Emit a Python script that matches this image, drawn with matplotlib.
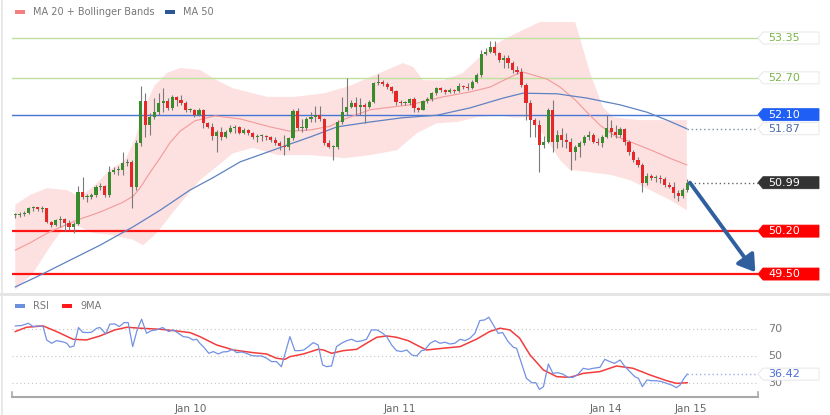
import matplotlib.pyplot as plt
import numpy as np
from matplotlib.patches import Polygon, Rectangle
from matplotlib.lines import Line2D

# ---------------- data (30 min candles) ----------------
date_labels = ["Jan 10", "Jan 11", "Jan 14", "Jan 15"]
date_pos = [39.2, 85.9, 131.8, 150.8]

first_open = 50.46
closes = [50.46, 50.48, 50.50, 50.58, 50.59, 50.56, 50.58, 50.35, 50.30, 50.38,
          50.40, 50.33, 50.27, 50.32, 50.84, 50.76, 50.76, 50.79, 50.92, 50.94,
          50.79, 51.16, 51.20, 51.20, 51.31, 51.33, 50.92, 51.64, 52.32, 51.93,
          52.06, 52.14, 52.29, 52.32, 52.21, 52.39, 52.34, 52.29, 52.18, 52.18,
          52.09, 52.18, 51.96, 51.90, 51.75, 51.82, 51.74, 51.82, 51.88, 51.90,
          51.80, 51.85, 51.80, 51.74, 51.75, 51.75, 51.74, 51.69, 51.64, 51.59,
          51.57, 51.72, 52.16, 51.88, 51.88, 52.03, 52.06, 52.09, 52.03, 51.64,
          51.57, 51.57, 51.98, 52.14, 52.22, 52.29, 52.22, 52.26, 52.22, 52.31,
          52.62, 52.63, 52.60, 52.55, 52.49, 52.31, 52.29, 52.29, 52.35, 52.21,
          52.18, 52.32, 52.35, 52.45, 52.53, 52.50, 52.47, 52.50, 52.49, 52.57,
          52.55, 52.53, 52.63, 52.75, 53.09, 53.12, 53.20, 53.11, 52.99, 53.02,
          52.94, 52.83, 52.80, 52.58, 52.29, 52.01, 51.93, 51.60, 51.65, 52.18,
          51.65, 51.77, 51.69, 51.65, 51.49, 51.57, 51.64, 51.74, 51.77, 51.65,
          51.64, 51.74, 51.88, 51.82, 51.77, 51.87, 51.65, 51.49, 51.36, 51.28,
          50.99, 51.10, 51.07, 51.07, 51.05, 50.95, 50.92, 50.82, 50.77, 50.87, 50.99]
highs = [50.50, 50.51, 50.53, 50.59, 50.61, 50.59, 50.61, 50.56, 50.36, 50.40,
         50.45, 50.41, 50.38, 50.35, 50.94, 51.08, 50.81, 50.82, 50.95, 50.99,
         50.95, 51.26, 51.25, 51.26, 51.49, 51.38, 51.36, 51.69, 52.57, 52.45,
         52.13, 52.37, 52.45, 52.53, 52.37, 52.42, 52.40, 52.42, 52.32, 52.21,
         52.19, 52.21, 52.19, 51.98, 51.96, 51.85, 51.90, 51.85, 51.93, 51.93,
         51.91, 51.88, 51.87, 51.82, 51.78, 51.78, 51.77, 51.75, 51.74, 51.67,
         51.77, 51.74, 52.19, 52.21, 52.03, 52.06, 52.14, 52.24, 52.24, 52.05,
         51.69, 51.60, 52.01, 52.39, 52.70, 52.34, 52.39, 52.37, 52.29, 52.34,
         52.63, 52.76, 52.66, 52.63, 52.57, 52.50, 52.34, 52.32, 52.37, 52.39,
         52.22, 52.34, 52.39, 52.47, 52.55, 52.55, 52.52, 52.53, 52.52, 52.62,
         52.58, 52.62, 52.66, 52.78, 53.15, 53.19, 53.30, 53.30, 53.12, 53.07,
         53.07, 52.97, 52.89, 52.86, 52.62, 52.34, 52.05, 52.01, 51.75, 52.21,
         52.34, 51.85, 51.88, 51.80, 51.72, 51.60, 51.67, 51.77, 51.83, 51.80,
         51.72, 51.77, 52.09, 52.01, 51.93, 51.90, 51.88, 51.69, 51.52, 51.41,
         51.31, 51.15, 51.13, 51.12, 51.12, 51.08, 51.00, 51.00, 50.87, 50.90, 51.05]
lows = [50.41, 50.43, 50.45, 50.48, 50.53, 50.53, 50.51, 50.33, 50.27, 50.28,
        50.27, 50.20, 50.22, 50.17, 50.30, 50.72, 50.67, 50.72, 50.76, 50.87,
        50.76, 50.76, 51.13, 51.12, 51.12, 51.26, 50.58, 50.87, 51.59, 51.74,
        51.77, 52.03, 52.09, 52.14, 52.18, 52.18, 52.24, 52.26, 52.14, 52.14,
        52.06, 52.08, 51.88, 51.88, 51.69, 51.49, 51.69, 51.72, 51.80, 51.80,
        51.78, 51.78, 51.77, 51.70, 51.65, 51.67, 51.69, 51.65, 51.60, 51.52,
        51.44, 51.52, 51.69, 51.85, 51.82, 51.85, 51.98, 51.98, 52.00, 51.60,
        51.56, 51.36, 51.54, 51.95, 52.09, 52.21, 52.09, 52.09, 51.96, 52.21,
        52.29, 52.58, 52.57, 52.52, 52.45, 52.26, 52.26, 52.26, 52.26, 52.14,
        52.14, 52.18, 52.29, 52.32, 52.42, 52.47, 52.44, 52.45, 52.45, 52.47,
        52.52, 52.50, 52.52, 52.62, 52.71, 53.07, 53.11, 53.07, 52.96, 52.86,
        52.86, 52.78, 52.76, 52.55, 52.01, 51.74, 51.74, 51.16, 51.56, 51.64,
        51.49, 51.56, 51.57, 51.56, 51.20, 51.36, 51.41, 51.60, 51.69, 51.64,
        51.60, 51.57, 51.72, 51.74, 51.72, 51.74, 51.60, 51.44, 51.33, 51.25,
        50.84, 50.95, 51.03, 51.00, 50.99, 50.92, 50.90, 50.74, 50.69, 50.74, 50.84]

# moving averages / bands, read at candle positions
ma20_x = [0, 3.3, 7.7, 13.8, 18.9, 24.0, 26.3, 27.8, 30.1, 32.3,
          34.5, 36.8, 40.1, 44.6, 50.2, 56.9, 61.3, 65.8, 70.2, 73.6,
          79.2, 88.1, 95.5, 101.5, 106.0, 110.4, 113.1, 118.7, 121.6, 125.0,
          127.6, 130.5, 133.9, 137.9, 142.3, 146.1, 149.9]
ma20_vals = [49.89, 50.01, 50.19, 50.38, 50.51, 50.67, 50.77, 50.90, 51.16, 51.39,
             51.64, 51.83, 52.00, 52.08, 52.03, 51.90, 51.83, 51.85, 51.91, 52.03,
             52.18, 52.26, 52.39, 52.47, 52.55, 52.71, 52.80, 52.68, 52.55, 52.34,
             52.14, 51.93, 51.75, 51.64, 51.51, 51.39, 51.28]
upper_x = [0, 3.3, 7.1, 11.5, 14.4, 17.8, 21.1, 24.5, 26.7, 29.0,
           31.2, 33.9, 36.8, 41.2, 45.0, 48.6, 56.2, 62.4, 69.1, 74.7,
           81.4, 86.5, 88.8, 91.0, 95.5, 99.9, 105.3, 108.9, 113.3, 117.1,
           125.0, 128.3, 131.2, 133.4, 139.4, 149.9]
upper_vals = [50.63, 50.79, 50.90, 50.87, 50.76, 50.95, 51.20, 51.36, 51.69, 52.26,
              52.58, 52.78, 52.86, 52.83, 52.66, 52.53, 52.39, 52.39, 52.45, 52.57,
              52.78, 52.94, 52.88, 52.66, 52.66, 52.78, 53.15, 53.32, 53.48, 53.61,
              53.61, 52.78, 52.22, 52.06, 52.01, 52.01]
lower_x = [0, 4.0, 7.7, 11.5, 14.4, 17.3, 21.1, 26.3, 28.5, 31.6,
           36.1, 41.2, 44.1, 48.6, 53.0, 58.6, 66.0, 73.6, 79.2, 85.2,
           89.7, 94.1, 98.6, 103.1, 108.2, 111.1, 114.9, 118.7, 121.6, 123.8,
           128.3, 132.8, 137.3, 141.7, 146.1, 149.9]
lower_vals = [49.24, 49.52, 49.94, 50.33, 50.27, 50.17, 50.14, 50.06, 49.97, 50.17,
              50.59, 51.03, 51.20, 51.47, 51.56, 51.44, 51.44, 51.39, 51.44, 51.52,
              51.80, 51.96, 51.98, 52.06, 52.09, 52.05, 52.06, 51.69, 51.36, 51.20,
              51.16, 51.12, 51.03, 50.87, 50.71, 50.54]
ma50_x = [0, 5.5, 11.5, 18.9, 26.3, 32.3, 39.0, 44.1, 50.2, 57.5,
          61.3, 66.0, 71.8, 79.2, 86.5, 94.1, 101.5, 108.9, 113.3, 120.9,
          127.6, 135.0, 141.0, 145.5, 149.9]
ma50_vals = [49.29, 49.48, 49.70, 49.97, 50.27, 50.54, 50.87, 51.07, 51.33, 51.52,
             51.62, 51.74, 51.90, 51.98, 52.05, 52.09, 52.21, 52.37, 52.45, 52.44,
             52.37, 52.26, 52.14, 52.01, 51.87]

# RSI panel
rsi_x = [0, 1.4, 2.9, 4.0, 5.1, 6.2, 7.0, 8.1, 9.2, 10.7,
         11.5, 12.2, 13.1, 14.1, 15.0, 16.1, 17.0, 18.2, 18.9, 20.2,
         21.1, 22.2, 23.2, 24.3, 25.2, 26.2, 27.2, 28.2, 29.3, 30.4,
         31.5, 32.9, 34.2, 35.3, 36.4, 37.5, 38.6, 39.7, 40.5, 41.2,
         42.1, 43.2, 44.2, 45.3, 46.3, 47.4, 48.5, 49.4, 50.5, 51.6,
         52.8, 53.9, 55.0, 56.1, 57.2, 58.3, 59.4, 61.3, 62.4, 63.5,
         64.4, 65.4, 66.5, 67.6, 68.6, 69.5, 70.6, 71.7, 72.8, 74.0,
         75.1, 76.2, 77.3, 78.4, 79.5, 80.7, 81.8, 82.9, 84.0, 85.1,
         86.2, 87.4, 88.5, 89.6, 90.7, 91.4, 92.6, 93.7, 94.8, 95.9,
         97.0, 98.1, 99.3, 100.4, 101.5, 102.6, 103.7, 104.8, 105.7, 106.7,
         107.8, 108.8, 110.0, 111.2, 111.9, 113.0, 114.1, 115.3, 116.2, 117.0,
         117.9, 119.0, 120.0, 121.2, 122.3, 123.4, 124.5, 125.6, 126.8, 127.9,
         129.0, 130.5, 131.6, 132.7, 133.8, 135.0, 136.1, 137.2, 138.3, 139.1,
         140.0, 141.0, 142.1, 143.2, 144.3, 145.4, 146.5, 147.6, 148.4, 149.3,
         150.0]
rsi_vals = [72.5, 72.8, 74.5, 72, 72.5, 72, 62, 59.5, 61.5, 60.5,
            59.5, 56.5, 57.5, 71.3, 67.8, 67.5, 67.8, 70.8, 71.3, 66.5,
            73.8, 74, 72, 75, 75, 57, 69.5, 77.5, 67, 69,
            69.5, 71.3, 68.3, 69.5, 67, 64.5, 64, 62, 62.5, 59.5,
            56.5, 52, 53.3, 51.5, 53, 53.3, 55, 52.5, 53, 52,
            50.3, 50, 50, 48.3, 45.8, 45.8, 42, 64.5, 54, 54,
            54.5, 57, 60, 58.3, 43.3, 42, 42.5, 57, 59.5, 61.5,
            62.5, 60.8, 61.3, 62.5, 69.5, 69.5, 67.5, 64.5, 58.3, 54,
            53.3, 54.5, 50.8, 50, 54, 54.5, 59.5, 61.5, 59.5, 60.3,
            59, 59.5, 62.5, 61.5, 63.3, 67, 76.5, 77, 79, 73.3,
            67, 67.5, 60.8, 56.5, 55.8, 44.5, 33.3, 30, 30, 25,
            27, 44, 37, 37.5, 36.3, 34, 34, 36.3, 40.8, 40,
            40.8, 41.5, 47.5, 45.8, 44.5, 47, 42, 38.3, 34.5, 33.3,
            27, 32, 31.5, 31.5, 30.8, 29.5, 28.3, 26.3, 28.3, 33.3,
            36.42]
ma9_x = [0, 2.5, 6.2, 9.2, 12.9, 15.9, 18.9, 22.2, 24.9, 27.8,
         32.3, 35.3, 39.0, 41.2, 44.9, 48.7, 53.1, 56.1, 58.3, 60.2,
         61.3, 64.3, 67.6, 68.8, 70.6, 73.2, 76.2, 78.4, 80.7, 82.9,
         85.1, 87.7, 90.0, 91.8, 95.5, 99.3, 102.9, 105.9, 108.2, 110.4,
         112.6, 114.9, 117.9, 120.9, 123.8, 126.8, 130.5, 134.2, 137.9, 141.7,
         145.4, 147.6, 150.0]
ma9_vals = [68.3, 71.5, 72.5, 68.3, 62.5, 62, 65, 69.5, 71.5, 70.8,
            70, 69, 67.5, 64.5, 58.3, 54.5, 52.5, 51.5, 48.3, 47.5,
            49.5, 51.5, 55, 54.5, 52, 54, 55, 59.5, 64, 65,
            64, 61.5, 57.5, 54.5, 55.8, 57, 62.5, 68.3, 70.8, 69.5,
            63.3, 50.8, 39.5, 34.5, 34, 37, 38.3, 42.5, 40.8, 35.8,
            31.5, 29.5, 30]
rsi_levels = [70, 50, 30]

resistance = [53.35, 52.70]
pivot = 52.10
supports = [50.20, 49.50]

# ---------------- figure ----------------
W, H = 830, 415
fig = plt.figure(figsize=(W / 100, H / 100), dpi=100)
fig.patch.set_facecolor('white')
ax = fig.add_axes([12 / W, 1 - 292 / H, 746 / W, 292 / H])
rsi_ax = fig.add_axes([12 / W, 1 - 397 / H, 746 / W, 101 / H])

for a in (ax, rsi_ax):
    a.set_xlim(-0.74, 165.8)
    for s in a.spines.values():
        s.set_visible(False)
ax.set_ylim(49.207, 53.97)
ax.set_xticks([])
ax.set_yticks([])
rsi_ax.set_ylim(19.3, 94.9)
rsi_ax.set_yticks([])


def frac(x, y):
    # pixel from top-left -> figure fraction
    return x / W, 1 - y / H


# panel frame
fig.add_artist(Line2D([0, 1], [1 - 293.5 / H] * 2, color='#e4e4e4', lw=2, transform=fig.transFigure))
fig.add_artist(Line2D([2 / W] * 2, [0, 1], color='#e4e4e4', lw=1.2, transform=fig.transFigure))

# bollinger band + averages
ax.fill(np.r_[upper_x, lower_x[::-1]], np.r_[upper_vals, lower_vals[::-1]],
        color='#fde0e0', lw=0, zorder=1)
ax.plot(ma20_x, ma20_vals, color='#f39a9a', lw=0.8, zorder=3)
ax.plot(ma50_x, ma50_vals, color='#5f82c2', lw=0.9, zorder=3)

# horizontal levels
for lv in resistance:
    ax.axhline(lv, color='#bfe09c', lw=1, zorder=2)
ax.axhline(pivot, color='#4575d6', lw=1, zorder=2)
for lv in supports:
    ax.axhline(lv, color='#ff1414', lw=1.6, zorder=2)

# candles
closes = np.array(closes)
opens = np.r_[first_open, closes[:-1]]
idx = np.arange(len(closes))
up = closes >= opens
hi = np.maximum(highs, np.maximum(opens, closes))
lo = np.minimum(lows, np.minimum(opens, closes))
ax.vlines(idx, lo, hi, color='#7a7a7a', lw=0.8, zorder=4)
ax.bar(idx, np.maximum(np.abs(closes - opens), 0.012), bottom=np.minimum(opens, closes),
       width=0.7, color=np.where(up, '#3a8a2e', '#e52727'), lw=0, zorder=5)

# dotted markers to the right edge
right = ax.get_xlim()[1]
ax.plot([ma50_x[-1], right], [ma50_vals[-1]] * 2, color='#7d8cab', lw=1, ls=(0, (1, 2)), zorder=3)
ax.plot([idx[-1] + 0.6, right], [closes[-1]] * 2, color='#666666', lw=1, ls=(0, (1, 2)), zorder=3)

# forecast arrow
ax.annotate('', xy=(right - 0.6, supports[1] + 0.03), xytext=(idx[-1] + 0.6, closes[-1]),
            arrowprops=dict(arrowstyle='-|>,head_length=0.7,head_width=0.45', mutation_scale=14,
                            lw=2.8, color='#2f5f9f', shrinkA=0, shrinkB=0), zorder=6)


def tag(axis, value, text, face, tcol, edge):
    xd, yd = axis.transData.transform((axis.get_xlim()[1], value))
    pts = [(xd, yd), (xd + 5, yd + 6), (xd + 61, yd + 6), (xd + 61, yd - 6), (xd + 5, yd - 6)]
    fig.add_artist(Polygon([(x / W, y / H) for x, y in pts], closed=True, transform=fig.transFigure,
                           fc=face, ec=edge, lw=0.6, zorder=10))
    fig.text((xd + 10) / W, yd / H, text, color=tcol, fontsize=8, va='center', ha='left', zorder=11)


for lv in resistance:
    tag(ax, lv, f'{lv:.2f}', 'white', '#79b548', '#e3e3e3')
tag(ax, pivot, f'{pivot:.2f}', '#1f5ff5', 'white', '#1f5ff5')
tag(ax, ma50_vals[-1], f'{ma50_vals[-1]:.2f}', 'white', '#4a6aa8', '#e3e3e3')
tag(ax, closes[-1], f'{closes[-1]:.2f}', '#333333', 'white', '#333333')
for lv in supports:
    tag(ax, lv, f'{lv:.2f}', '#ff0000', 'white', '#ff0000')

# legend, price panel
fig.add_artist(Rectangle(frac(15, 14), 10 / W, 4 / H, transform=fig.transFigure, fc='#f47f7f', ec='none'))
fig.text(*frac(33, 12), 'MA 20 + Bollinger Bands', fontsize=7, color='#777777', va='center')
fig.add_artist(Rectangle(frac(165, 14), 10 / W, 4 / H, transform=fig.transFigure, fc='#2c5797', ec='none'))
fig.text(*frac(183, 12), 'MA 50', fontsize=7, color='#777777', va='center')

# ---------------- RSI panel ----------------
for lv in rsi_levels:
    rsi_ax.axhline(lv, color='#c4c4c4', lw=0.8, ls=(0, (1, 2.5)), zorder=1)
    yd = rsi_ax.transData.transform((0, lv))[1]
    fig.text(768 / W, yd / H, str(lv), fontsize=8, color='#777777', va='center')
rsi_ax.plot(ma9_x, ma9_vals, color='#f23c3c', lw=1.1, zorder=3)
rsi_ax.plot(rsi_x, rsi_vals, color='#7391e3', lw=0.9, zorder=4)
rsi_ax.plot([rsi_x[-1], right], [rsi_vals[-1]] * 2, color='#9bb0ea', lw=1, ls=(0, (1, 2)), zorder=2)
tag(rsi_ax, rsi_vals[-1], f'{rsi_vals[-1]:.2f}', 'white', '#4d6bd6', '#e3e3e3')

rsi_ax.spines['bottom'].set_visible(True)
rsi_ax.spines['bottom'].set_color('#a9a9a9')
rsi_ax.spines['bottom'].set_linewidth(1.5)
for xe in (0, 1):
    rsi_ax.plot([xe, xe], [0, 0.05], color='#a9a9a9', lw=1.2, transform=rsi_ax.transAxes, clip_on=False)
rsi_ax.set_xticks(date_pos)
rsi_ax.set_xticklabels(date_labels)
rsi_ax.tick_params(axis='x', length=0, pad=5, labelsize=7.5, labelcolor='#666666')

fig.add_artist(Rectangle(frac(15, 308), 10 / W, 4 / H, transform=fig.transFigure, fc='#6d8fe0', ec='none'))
fig.text(*frac(33, 306), 'RSI', fontsize=7, color='#777777', va='center')
fig.add_artist(Rectangle(frac(62, 308), 10 / W, 4 / H, transform=fig.transFigure, fc='#ff1a1a', ec='none'))
fig.text(*frac(80, 306), '9MA', fontsize=7, color='#777777', va='center')

fig.savefig('out.png', dpi=100, facecolor='white')
